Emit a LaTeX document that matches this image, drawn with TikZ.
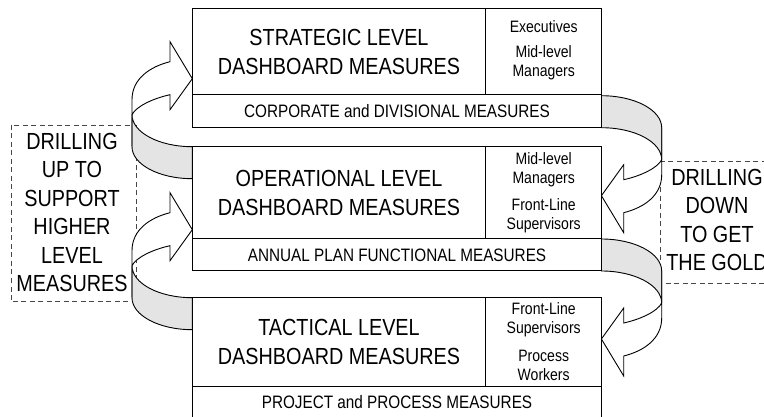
\documentclass[tikz,border=0pt]{standalone}
\usepackage{fontspec}
\setmainfont{Liberation Sans}[FakeStretch=0.85]
\definecolor{ribbongray}{RGB}{228,228,228}
\definecolor{dashgray}{RGB}{70,70,70}
\newcommand\ttlfnt{\fontsize{23.3}{28.4}\selectfont}
\newcommand\stripfnt{\fontsize{18}{21}\selectfont}
\newcommand\rolefnt{\fontsize{16.5}{19}\selectfont}
\begin{document}
\begin{tikzpicture}[x=1pt,y=-1pt,
  cell/.style={draw=black,line width=1pt,anchor=north west,inner sep=0pt,outer sep=0pt,fill=white},
  ttl/.style={align=center,font=\ttlfnt,inner sep=0pt},
  striptxt/.style={font=\stripfnt,inner sep=0pt},
  role/.style={align=center,font=\rolefnt,inner sep=0pt},
  dashbox/.style={draw=dashgray,line width=0.9pt,dash pattern=on 5pt off 3.5pt},
  side/.style={align=center,font=\ttlfnt,inner sep=0pt},
  back/.style={draw=black,line width=0.9pt,fill=ribbongray,line join=round},
  front/.style={draw=black,line width=0.9pt,fill=white,line join=miter}]
\clip (0,0) rectangle (764,417);
% dashed side boxes
\draw[dashbox] (11,125) rectangle (136,301.7);
\draw[dashbox] (660,161.7) rectangle (800,283.3);
\node[side] (up) at (72,212.5) {DRILLING\\UP TO\\SUPPORT\\HIGHER\\LEVEL\\MEASURES};
\node[side] (down) at (717,220) {DRILLING\\DOWN\\TO GET\\THE GOLD};
% left ribbons (drilling up)
\foreach \T in {146.7,297.7}{
  \draw[back] (192.3,\T) .. controls (159,\T) and (132,{\T-14.3}) .. (132,{\T-32})
     -- (132,\T) .. controls (132,{\T+17.7}) and (159,{\T+32}) .. (192.3,{\T+32}) -- cycle;
  \draw[front] (132,\T) -- (132,{\T-47}) .. controls (132,{\T-68}) and (150,{\T-80}) .. (170,{\T-85})
     -- (170,{\T-105}) -- (192.3,{\T-68}) -- (170,{\T-37}) -- (170,{\T-52})
     .. controls (152,{\T-48}) and (136,{\T-40}) .. (132,{\T-32}) -- cycle;
}
% right ribbons (drilling down)
\foreach \B in {127.7,271}{
  \draw[back] (601.4,\B) .. controls (634.7,\B) and (661.7,{\B+14.3}) .. (661.7,{\B+32})
     -- (661.7,\B) .. controls (661.7,{\B-17.7}) and (634.7,{\B-32}) .. (601.4,{\B-32}) -- cycle;
  \draw[front] (661.7,\B) -- (661.7,{\B+47}) .. controls (661.7,{\B+68}) and (643.7,{\B+80}) .. (623.7,{\B+85})
     -- (623.7,{\B+105}) -- (601.4,{\B+68}) -- (623.7,{\B+37}) -- (623.7,{\B+52})
     .. controls (641.7,{\B+48}) and (657.7,{\B+40}) .. (661.7,{\B+32}) -- cycle;
}
% strategic box
\node[cell,minimum width=293.4pt,minimum height=86pt] (s1) at (192.3,9) {};
\node[cell,minimum width=116pt,minimum height=86pt] (r1) at (485.7,9) {};
\node[cell,minimum width=409.4pt,minimum height=32.7pt] (p1) at (192.3,95) {};
\node[ttl] (t1) at (s1.center) {STRATEGIC LEVEL\\DASHBOARD MEASURES};
\node[role] (r1a) at (543.7,27) {Executives};
\node[role] (r1b) at (543.7,62.5) {Mid-level\\Managers};
\node[striptxt] (c1) at (p1.center) {CORPORATE and DIVISIONAL MEASURES};
% operational box
\node[cell,minimum width=293.4pt,minimum height=92.3pt] (s2) at (192.3,146.7) {};
\node[cell,minimum width=116pt,minimum height=92.3pt] (r2) at (485.7,146.7) {};
\node[cell,minimum width=409.4pt,minimum height=32pt] (p2) at (192.3,239) {};
\node[ttl] (t2) at (s2.center) {OPERATIONAL LEVEL\\DASHBOARD MEASURES};
\node[role] (r2a) at (543.7,170) {Mid-level\\Managers};
\node[role] (r2b) at (543.7,216.2) {Front-Line\\Supervisors};
\node[striptxt] (c2) at (p2.center) {ANNUAL PLAN FUNCTIONAL MEASURES};
% tactical box
\node[cell,minimum width=293.4pt,minimum height=88.3pt] (s3) at (192.3,297.7) {};
\node[cell,minimum width=116pt,minimum height=88.3pt] (r3) at (485.7,297.7) {};
\node[cell,minimum width=409.4pt,minimum height=33pt] (p3) at (192.3,386) {};
\node[ttl] (t3) at (s3.center) {TACTICAL LEVEL\\DASHBOARD MEASURES};
\node[role] (r3a) at (543.7,320) {Front-Line\\Supervisors};
\node[role] (r3b) at (543.7,365.8) {Process\\Workers};
\node[striptxt] (c3) at (p3.center) {PROJECT and PROCESS MEASURES};
\end{tikzpicture}
\end{document}
